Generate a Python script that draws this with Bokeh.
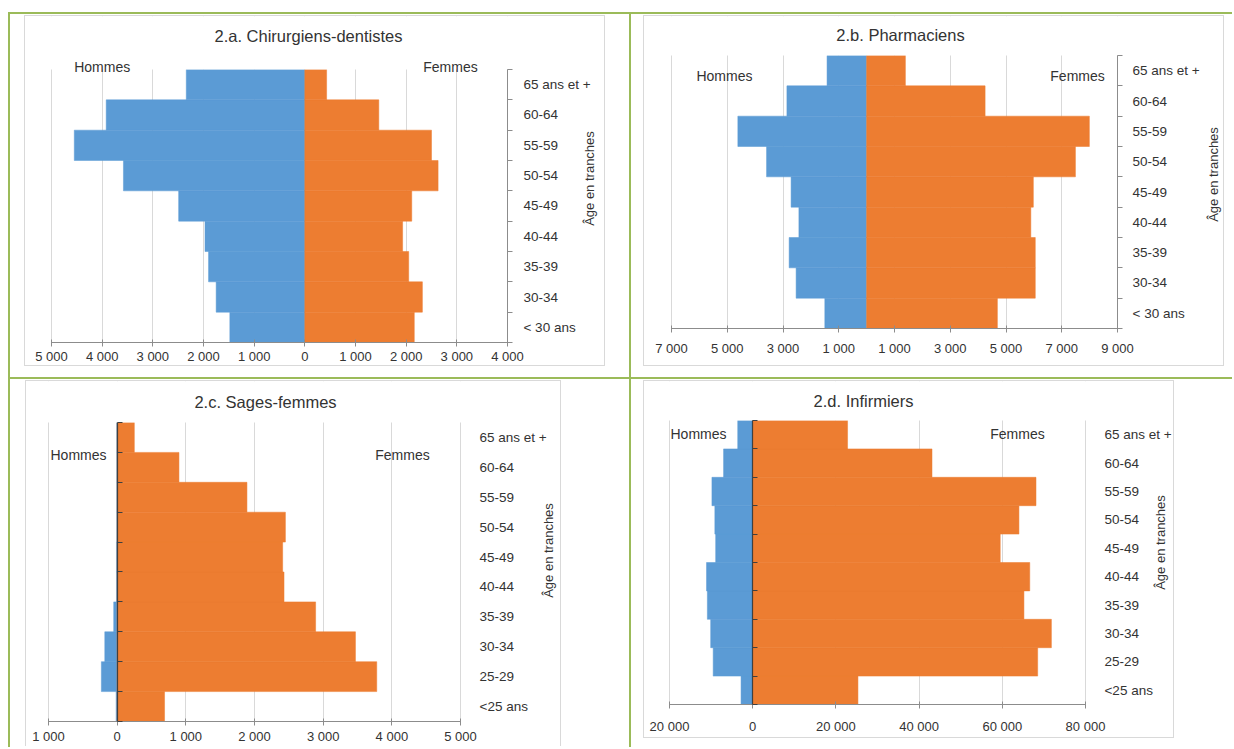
import math
from bokeh.plotting import figure
from bokeh.models import (Range1d, LinearAxis, FixedTicker, Label, BoxAnnotation, Div, Spacer,
                          ColumnDataSource)
from bokeh.layouts import row, column
from bokeh.embed import file_html
from bokeh.resources import INLINE

# ---------------- data (bottom category first) ----------------
cats_ab = ["< 30 ans", "30-34", "35-39", "40-44", "45-49", "50-54", "55-59", "60-64", "65 ans et +"]
cats_cd = ["<25 ans", "25-29", "30-34", "35-39", "40-44", "45-49", "50-54", "55-59", "60-64", "65 ans et +"]

hommes_a = [1480, 1750, 1900, 1970, 2490, 3580, 4550, 3920, 2340]
femmes_a = [2160, 2320, 2050, 1930, 2110, 2630, 2500, 1460, 430]

hommes_b = [1500, 2530, 2780, 2430, 2710, 3590, 4620, 2860, 1420]
femmes_b = [4690, 6050, 6050, 5890, 5980, 7490, 7990, 4250, 1390]

hommes_c = [15, 230, 180, 50, 10, 10, 5, 5, 5, 5]
femmes_c = [690, 3780, 3470, 2890, 2430, 2410, 2450, 1890, 900, 250]

hommes_d = [2800, 9500, 10100, 10900, 11100, 8900, 9100, 9800, 7000, 3600]
femmes_d = [25300, 68500, 71800, 65200, 66600, 59500, 64000, 68100, 43100, 22800]

ticks_a = [-5000, -4000, -3000, -2000, -1000, 0, 1000, 2000, 3000, 4000]
ticks_b = [-7000, -5000, -3000, -1000, 1000, 3000, 5000, 7000, 9000]
ticks_c = [-1000, 0, 1000, 2000, 3000, 4000, 5000]
ticks_d = [-20000, 0, 20000, 40000, 60000, 80000]

titles = ["2.a. Chirurgiens-dentistes", "2.b. Pharmaciens", "2.c. Sages-femmes", "2.d. Infirmiers"]
y_title = "Âge en tranches"

# ---------------- style ----------------
FONT = "Liberation Sans"
GREEN = "#9bbb59"
BLUE = "#5b9bd5"
ORANGE = "#ed7d31"
TXT = "#333333"
GRID = "#d9d9d9"
AXIS = "#8c8c8c"


def fmt(v):
    return f"{abs(int(v)):,}".replace(",", " ")


def panel(title, cats, hommes, femmes, xticks, xview, yview, size, title_xy, h_xy, f_xy,
          ytitle_xy, center_axis, xlab_standoff, ylab_standoff, css, margin):
    w, h = size
    n = len(cats)
    xmin, xmax = xticks[0], xticks[-1]
    p = figure(width=w, height=h, x_range=Range1d(*xview), y_range=Range1d(*yview),
               toolbar_location=None, output_backend="svg", y_axis_location=None,
               min_border_left=0, min_border_right=0, min_border_top=0, min_border_bottom=0,
               background_fill_color="white", border_fill_color="white")
    p.outline_line_color = None
    ys = list(range(n))
    src = ColumnDataSource(dict(y=ys, h=[-v for v in hommes], f=femmes))
    p.hbar(y="y", left=0, right="h", height=1, source=src,
           fill_color=BLUE, line_color=BLUE, line_width=0.5)
    p.hbar(y="y", left=0, right="f", height=1, source=src,
           fill_color=ORANGE, line_color=ORANGE, line_width=0.5)

    # white masks limiting the vertical grid lines to the bar area
    p.add_layout(BoxAnnotation(bottom=n - 0.5, fill_color="white", fill_alpha=1,
                               line_color=None, level="glyph"))
    p.add_layout(BoxAnnotation(top=-0.5, fill_color="white", fill_alpha=1,
                               line_color=None, level="glyph"))

    xt = FixedTicker(ticks=xticks)
    xa = p.xaxis[0]
    xa.ticker = xt
    xa.fixed_location = -0.5
    xa.bounds = (xmin, xmax)
    xa.major_label_overrides = {t: fmt(t) for t in xticks}
    xa.axis_line_color = AXIS
    xa.major_tick_line_color = AXIS
    xa.major_tick_in = 3
    xa.major_tick_out = 4
    xa.minor_tick_line_color = None
    xa.major_label_standoff = xlab_standoff
    xa.major_label_text_font = FONT
    xa.major_label_text_font_size = "13px"
    xa.major_label_text_color = TXT
    for g in p.xgrid:
        g.ticker = xt
        g.grid_line_color = GRID
    for g in p.ygrid:
        g.visible = False

    bnd = [i - 0.5 for i in range(n + 1)]
    # category axis (labels), fixed at the right end of the value scale
    ya = LinearAxis(ticker=FixedTicker(ticks=ys, minor_ticks=bnd),
                    major_label_overrides={i: c for i, c in enumerate(cats)},
                    fixed_location=xmax, bounds=(-0.5, n - 0.5))
    ya.major_tick_in = 0
    ya.major_tick_out = 0
    ya.minor_tick_in = 0
    ya.minor_tick_out = 5
    if center_axis:
        ya.axis_line_color = None
        ya.minor_tick_line_color = None
    else:
        ya.axis_line_color = AXIS
        ya.minor_tick_line_color = AXIS
    ya.major_label_standoff = ylab_standoff
    ya.major_label_text_font = FONT
    ya.major_label_text_font_size = "13.5px"
    ya.major_label_text_color = TXT
    p.add_layout(ya, "right")

    if center_axis:
        # category axis line crossing at zero (no labels)
        ca = LinearAxis(ticker=FixedTicker(ticks=[], minor_ticks=bnd),
                        fixed_location=0, bounds=(-0.5, n - 0.5))
        ca.axis_line_color = "#404040"
        ca.axis_line_width = 1.2
        ca.major_tick_line_color = None
        ca.minor_tick_line_color = "#404040"
        ca.minor_tick_in = 0
        ca.minor_tick_out = 5
        p.add_layout(ca, "right")

    p.add_layout(Label(x=ytitle_xy[0], y=ytitle_xy[1], text=y_title, angle=math.pi / 2,
                       text_align="center", text_baseline="middle", text_font=FONT,
                       text_font_size="13px", text_color=TXT))
    p.add_layout(Label(x=title_xy[0], y=title_xy[1], text=title, text_align="center",
                       text_baseline="middle", text_font=FONT, text_font_size="16.5px",
                       text_color=TXT))
    p.add_layout(Label(x=h_xy[0], y=h_xy[1], text="Hommes", text_align="center",
                       text_baseline="middle", text_font=FONT, text_font_size="14px",
                       text_color=TXT))
    p.add_layout(Label(x=f_xy[0], y=f_xy[1], text="Femmes", text_align="center",
                       text_baseline="middle", text_font=FONT, text_font_size="14px",
                       text_color=TXT))
    p.styles = css
    p.margin = margin
    return p


BORDER = "1px solid #d9d9d9"

pa = panel(titles[0], cats_ab, hommes_a, femmes_a, ticks_a, (-5513, 5954), (-1.324, 10.247),
           (581, 351), (72, 9.62), (-4000, 8.57), (2875, 8.57), (5618, 4.906), False, 2, 11,
           {"border": BORDER}, (1, 24, 9, 14))
pb = panel(titles[1], cats_ab, hommes_b, femmes_b, ticks_b, (-7969, 12874), (-1.786, 9.786),
           (581, 351), (1215, 9.16), (-5100, 7.81), (7565, 7.81), (12444, 4.577), False, 9, 10,
           {"border": BORDER}, (1, 4, 9, 12))
pc = panel(titles[2], cats_cd, hommes_c, femmes_c, ticks_c, (-1320, 6485), (-1.370, 10.871),
           (536, 366), (2160, 10.17), (-563, 8.4), (4155, 8.4), (6281, 5.219), True, 4, 14,
           {"border": BORDER, "border-bottom": "none"}, (1, 68, 0, 15))
pd_ = panel(titles[3], cats_cd, hommes_d, femmes_d, ticks_d, (-26010, 101635), (-1.732, 10.873),
            (531, 358), (26635, 10.2), (-13030, 9.04), (63650, 9.04), (98029, 5.204), True, 10, 14,
            {"border": BORDER}, (1, 54, 7, 12))


def green(w, h):
    return Div(text="", width=w, height=h, margin=0, styles={"background-color": GREEN})


def sp(w, h):
    return Spacer(width=w, height=h, margin=0)


layout = column(
    sp(1232, 12),
    row(sp(8, 2), green(1224, 2), margin=0, spacing=0),
    row(sp(8, 363), green(2, 363), pa, green(2, 363), pb, margin=0, spacing=0),
    row(sp(8, 2), green(1224, 2), margin=0, spacing=0),
    row(sp(8, 368), green(2, 368), pc, green(2, 368), pd_, margin=0, spacing=0),
    margin=0, spacing=0,
)

open("out.html", "w").write(file_html(layout, INLINE))
